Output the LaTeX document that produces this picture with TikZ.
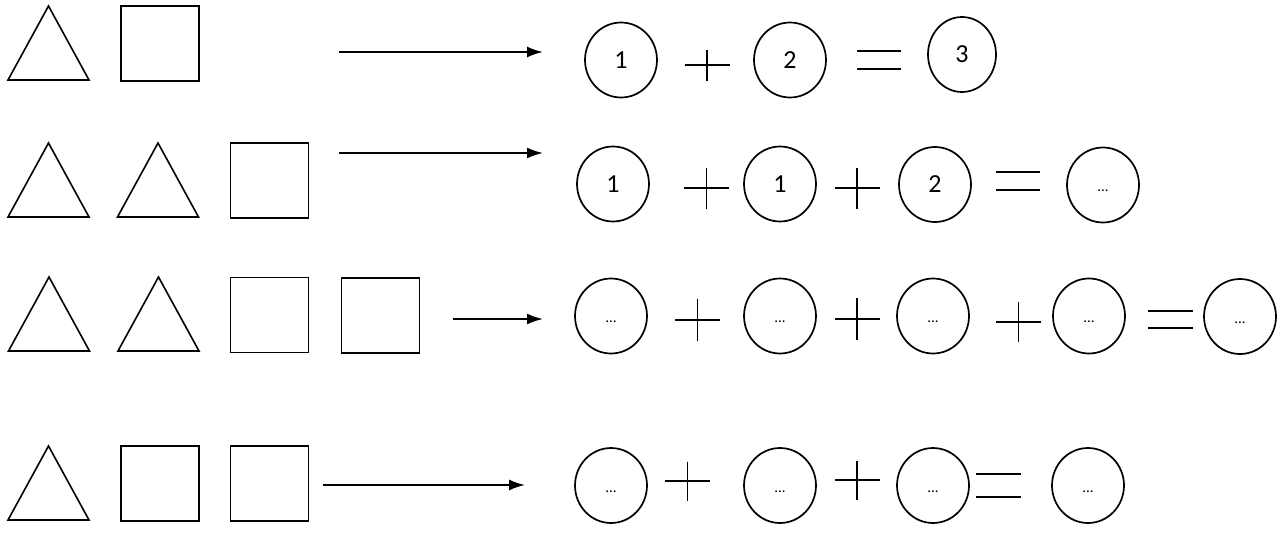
\documentclass[tikz,border=0pt]{standalone}
\usepackage{fontspec}
\setmainfont{Carlito}
\usetikzlibrary{shapes.geometric,arrows.meta}
\tikzset{
  shapeline/.style={line width=1.6pt, line join=miter},
  sqbox/.style={draw, line width=1.8pt, minimum width=78pt, minimum height=75pt, inner sep=0pt},
  numcirc/.style={draw, ellipse, line width=1.7pt, minimum width=72pt, minimum height=75pt, inner sep=0pt, font=\fontsize{26}{28}\selectfont},
  dotcirc/.style={numcirc, label={[font=\fontsize{15}{17}\selectfont, yshift=-6pt]center:...}},
  arr/.style={line width=1.8pt, -{Latex[length=16pt,width=11pt]}},
  sym/.style={line width=1.6pt},
}
\newcommand\TriAt[2]{\draw[shapeline] ({#1-40.5},#2) -- (#1,{#2-74}) -- ({#1+40.5},#2) -- cycle;}
\newcommand\PlusAt[3]{\draw[sym] ({#1-22.5},#2) -- ({#1+22.5},#2) (#1,{#2-#3/2}) -- (#1,{#2+#3/2});}
\newcommand\EqAt[4]{\draw[sym] (#1,#3) -- (#2,#3) (#1,#4) -- (#2,#4);}
\begin{document}
\begin{tikzpicture}[x=1pt,y=-1pt]
\useasboundingbox (0,0) rectangle (1286,533);
% ---------- Row 1
\TriAt{48.5}{80}
\node[sqbox] (r1s1) at (160,43.5) {};
\coordinate (r1as) at (339,52);
\coordinate (r1ae) at (543,52);
\draw[arr] (r1as) -- (r1ae);
\node[numcirc] (r1c1) at (621,60) {1};
\PlusAt{707}{65}{31}
\node[numcirc] (r1c2) at (790,60) {2};
\EqAt{857}{901}{51}{69}
\node[numcirc, minimum width=68pt] (r1c3) at (962,54.5) {3};
% ---------- Row 2
\TriAt{48.5}{217}
\TriAt{158}{217}
\node[sqbox] (r2s1) at (269.5,180.5) {};
\coordinate (r2as) at (339,153);
\coordinate (r2ae) at (543,153);
\draw[arr] (r2as) -- (r2ae);
\node[numcirc] (r2c1) at (613,184) {1};
\PlusAt{706.5}{188}{41}
\node[numcirc] (r2c2) at (780,184) {1};
\PlusAt{857}{188}{41}
\node[numcirc] (r2c3) at (935,184.5) {2};
\EqAt{996}{1040}{172}{190}
\node[dotcirc] (r2c4) at (1103,185) {};
% ---------- Row 3
\TriAt{49}{351}
\TriAt{158.5}{351}
\node[sqbox] (r3s1) at (269.5,315) {};
\node[sqbox] (r3s2) at (380.5,315.5) {};
\coordinate (r3as) at (453,319);
\coordinate (r3ae) at (543,319);
\draw[arr] (r3as) -- (r3ae);
\node[dotcirc] (r3c1) at (611,316) {};
\PlusAt{697.5}{320}{42}
\node[dotcirc] (r3c2) at (780,316) {};
\PlusAt{857}{319}{42}
\node[dotcirc] (r3c3) at (933,316) {};
\PlusAt{1018.5}{322}{40}
\node[dotcirc] (r3c4) at (1089,316) {};
\EqAt{1148}{1193}{311}{328}
\node[dotcirc] (r3c5) at (1240,316.5) {};
% ---------- Row 4
\TriAt{48.5}{520}
\node[sqbox] (r4s1) at (160,483.5) {};
\node[sqbox] (r4s2) at (269.5,483.5) {};
\coordinate (r4as) at (323,485);
\coordinate (r4ae) at (525,485);
\draw[arr] (r4as) -- (r4ae);
\node[dotcirc] (r4c1) at (611,485.5) {};
\PlusAt{687.5}{481}{39}
\node[dotcirc] (r4c2) at (780,485.5) {};
\PlusAt{857}{480}{39}
\node[dotcirc] (r4c3) at (933,485.5) {};
\EqAt{976}{1021}{474}{497}
\node[dotcirc] (r4c4) at (1088,485.5) {};
\end{tikzpicture}
\end{document}
